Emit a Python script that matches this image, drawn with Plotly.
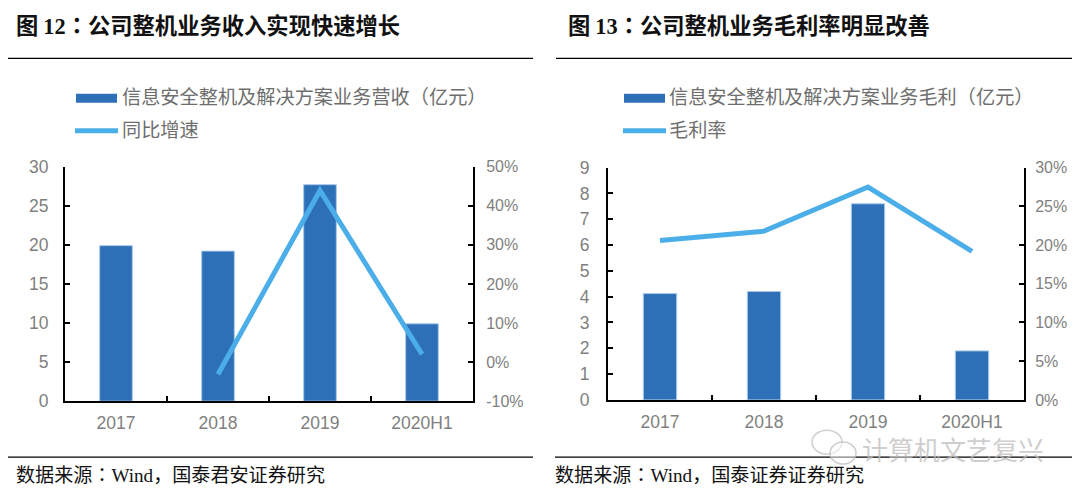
import plotly.graph_objects as go

W, H = 1080, 497
categories = ["2017", "2018", "2019", "2020H1"]
revenue = [19.9, 19.2, 27.7, 9.9]
revenue_growth = [None, -3.1, 43.9, 2.0]
gross_profit = [4.12, 4.2, 7.6, 1.9]
gross_margin = [20.6, 21.8, 27.5, 19.2]
left_ticks = [0, 5, 10, 15, 20, 25, 30]
left_pct_ticks = [-10, 0, 10, 20, 30, 40, 50]
left_pct_labels = ["-10%", "0%", "10%", "20%", "30%", "40%", "50%"]
right_ticks = [0, 1, 2, 3, 4, 5, 6, 7, 8, 9]
right_pct_ticks = [0, 5, 10, 15, 20, 25, 30]
right_pct_labels = ["0%", "5%", "10%", "15%", "20%", "25%", "30%"]

BAR, EDGE, LINE, GREY = "#2E70B8", "#A9C8E8", "#4BAEE8", "#7F7F7F"
SANS = "Noto Sans CJK SC"
NUM = "Liberation Sans"
LAT = "Liberation Serif"

# The page renders the paper offset from the window; these map window pixels to paper fractions.
OFF_X, OFF_Y, PAPER_H = 8, 17, 478


def px(x):
    return (x - OFF_X) / W


def py(y):
    return 1 - (y - OFF_Y) / PAPER_H


fig = go.Figure()
for bars, line, name_b, name_l, xa, ya, ya2 in [
    (revenue, revenue_growth, "信息安全整机及解决方案业务营收（亿元）", "同比增速", "x", "y", "y2"),
    (gross_profit, gross_margin, "信息安全整机及解决方案业务毛利（亿元）", "毛利率", "x2", "y3", "y4"),
]:
    fig.add_trace(go.Bar(x=categories, y=bars, name=name_b, xaxis=xa, yaxis=ya, width=0.32,
                         marker=dict(color=BAR, line=dict(color=EDGE, width=1))))
    fig.add_trace(go.Scatter(x=categories, y=line, name=name_l, xaxis=xa, yaxis=ya2, mode="lines",
                             line=dict(color=LINE, width=5)))

axis = dict(showgrid=False, zeroline=False, showline=True, linecolor="#000000", linewidth=2,
            ticks="inside", ticklen=5, tickwidth=2, tickcolor="#000000",
            tickfont=dict(family=NUM, size=17.5, color=GREY))
pct_font = dict(family=NUM, size=16, color=GREY)
xaxis = dict(axis, type="category", tickson="boundaries", range=[-0.5, 3.5], ticklabelstandoff=5)
d1x, d1y = [px(65), px(473)], [py(401), py(166)]
d2x, d2y = [px(608), px(1024)], [py(399.7), py(167)]
fig.update_layout(
    width=W, height=H, margin=dict(l=0, r=0, t=0, b=0), autosize=False,
    paper_bgcolor="white", plot_bgcolor="white", showlegend=False, barmode="overlay",
    xaxis=dict(xaxis, domain=d1x, anchor="y"),
    yaxis=dict(axis, domain=d1y, anchor="x", range=[0, 30], tickvals=left_ticks, ticklabelstandoff=11),
    yaxis2=dict(axis, domain=d1y, anchor="x", overlaying="y", side="right", range=[-10, 50], tickfont=pct_font,
                tickvals=left_pct_ticks, ticktext=left_pct_labels, ticklabelstandoff=8),
    xaxis2=dict(xaxis, domain=d2x, anchor="y3"),
    yaxis3=dict(axis, domain=d2y, anchor="x2", range=[0, 9], tickvals=right_ticks, ticklabelstandoff=13),
    yaxis4=dict(axis, domain=d2y, anchor="x2", overlaying="y3", side="right", range=[0, 30], tickfont=pct_font,
                tickvals=right_pct_ticks, ticktext=right_pct_labels, ticklabelstandoff=6),
)

shapes, notes = [], []


def text(x, y, s, size, color="#111111", family=SANS, anchor="left"):
    notes.append(dict(x=px(x), y=py(y), xref="paper", yref="paper", text=s, showarrow=False,
                      xanchor=anchor, yanchor="middle", font=dict(family=family, size=size, color=color)))


def rule(x0, x1, y, color="#000000", width=1.3):
    shapes.append(dict(type="line", xref="paper", yref="paper", x0=px(x0), x1=px(x1), y0=py(y), y1=py(y),
                       line=dict(color=color, width=width)))


serif = lambda s: f'<span style="font-family:{LAT}">{s}</span>'
tc = lambda s: f'<span style="font-family:Noto Sans CJK TC">{s}</span>'
text(14, 23, f"<b>图 {serif('12')}{tc('：')}公司整机业务收入实现快速增长</b>", 22.3)
text(566, 23, f"<b>图 {serif('13')}{tc('：')}公司整机业务毛利率明显改善</b>", 22.3)
rule(4, 533, 57.5)
rule(556, 1072, 57.5)
rule(2, 533, 457)
rule(555, 1072, 457)
text(14, 474, f"数据来源{tc('：')}{serif('Wind')}，国泰君安证券研究", 19.1)
text(553, 474, f"数据来源{tc('：')}{serif('Wind')}，国泰证券证券研究", 19.1)

for kx0, kx1, tx, s1, s2 in [
    (76, 117, 120, "信息安全整机及解决方案业务营收（亿元）", "同比增速"),
    (624, 665, 667, "信息安全整机及解决方案业务毛利（亿元）", "毛利率"),
]:
    shapes.append(dict(type="rect", xref="paper", yref="paper", x0=px(kx0), x1=px(kx1), y0=py(102), y1=py(93),
                       fillcolor=BAR, line=dict(width=0)))
    shapes.append(dict(type="line", xref="paper", yref="paper", x0=px(kx0 - 1), x1=px(kx1 + 1), y0=py(130), y1=py(130),
                       line=dict(color=LINE, width=5)))
    text(tx, 95, s1, 19.2, "#6E6E6E")
    text(tx, 128, s2, 19.2, "#6E6E6E")

# watermark
text(860, 448, "计算机文艺复兴", 26, "rgba(190,190,190,0.75)")
for x0, x1, y0, y1 in [(812, 842, 430, 454), (830, 856, 442, 464)]:
    shapes.append(dict(type="circle", xref="paper", yref="paper", x0=px(x0), x1=px(x1), y0=py(y1), y1=py(y0),
                       line=dict(color="rgba(190,190,190,0.75)", width=1.5), fillcolor="rgba(255,255,255,0.5)"))

fig.update_layout(shapes=shapes, annotations=notes)
fig.write_html("out.html")
